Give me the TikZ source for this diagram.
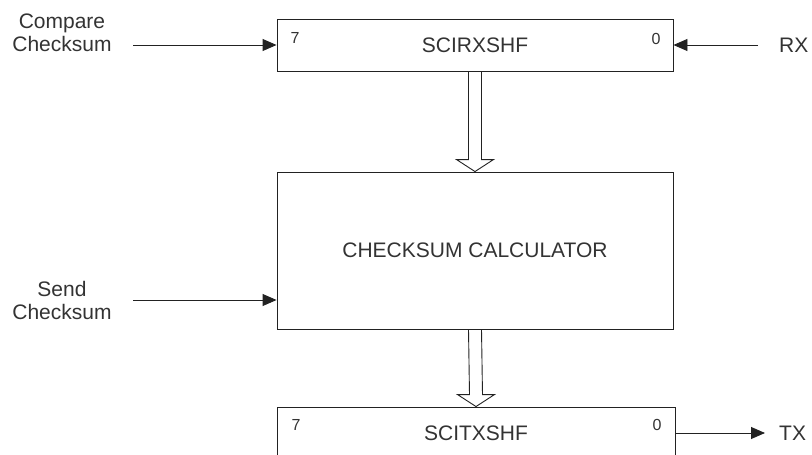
\documentclass[tikz,border=0pt]{standalone}
\usepackage{fontspec}
\setmainfont{Liberation Sans}
\usetikzlibrary{arrows.meta, calc}
\usepackage{xcolor}
\definecolor{cLine}{HTML}{222222}
\definecolor{cText}{HTML}{333333}
\tikzset{
  regbox/.style={draw=cLine, line width=0.9pt, minimum width=396, minimum height=52,
                 inner sep=0pt, text=cText, font=\fontsize{21}{23}\selectfont},
  bitlbl/.style={text=cText, inner sep=0pt, font=\fontsize{16}{18}\selectfont},
  siglbl/.style={text=cText, inner sep=0pt, align=center, font=\fontsize{21}{23}\selectfont},
  sig/.style={-{Triangle[length=14pt,width=12pt]}, draw=cLine, line width=0.9pt},
  bus/.style={draw=cLine, line width=0.9pt, line join=miter},
}
% hollow bus arrow from the bottom of #1 to the top of #2
\newcommand{\busarrow}[2]{%
  \draw[bus] ($(#1.south)+(-6.5,0)$) -- ($(#2.north)+(-6.5,-12)$)
    -- ($(#2.north)+(-18.5,-12)$) -- (#2.north) -- ($(#2.north)+(18.5,-12)$)
    -- ($(#2.north)+(6.5,-12)$) -- ($(#1.south)+(6.5,0)$);}

\begin{document}
\begin{tikzpicture}[x=1pt, y=-1pt]
\clip (0,0) rectangle (812,455);

% Receive shift register
\node[regbox] (rxshf) at (475,45) {SCIRXSHF};
\node[bitlbl] (rx7) at (295,38) {7};
\node[bitlbl] (rx0) at (656,38.5) {0};

% Checksum block
\node[regbox, minimum height=157] (calc) at (475,250.5) {CHECKSUM CALCULATOR};

% Transmit shift register
\node[regbox, minimum width=398] (txshf) at (476,433) {SCITXSHF};
\node[bitlbl] (tx7) at (296,425) {7};
\node[bitlbl] (tx0) at (657,425) {0};

% Buses
\busarrow{rxshf}{calc}
\busarrow{calc}{txshf}

% Signals
\node[siglbl] (cmp) at (62,33) {Compare\\Checksum};
\coordinate (cmpin) at (133,45);
\draw[sig] (cmpin) -- (rxshf.west);

\node[siglbl, anchor=west] (rx) at (779,45) {RX};
\coordinate (rxin) at (758,45);
\draw[sig] (rxin) -- (rxshf.east);

\node[siglbl] (snd) at (62,300) {Send\\Checksum};
\coordinate (sndin) at (133,300);
\draw[sig] (sndin) -- (calc.west |- sndin);

\node[siglbl, anchor=west] (tx) at (779,433) {TX};
\coordinate (txout) at (765,433);
\draw[sig] (txshf.east) -- (txout);

\end{tikzpicture}
\end{document}
